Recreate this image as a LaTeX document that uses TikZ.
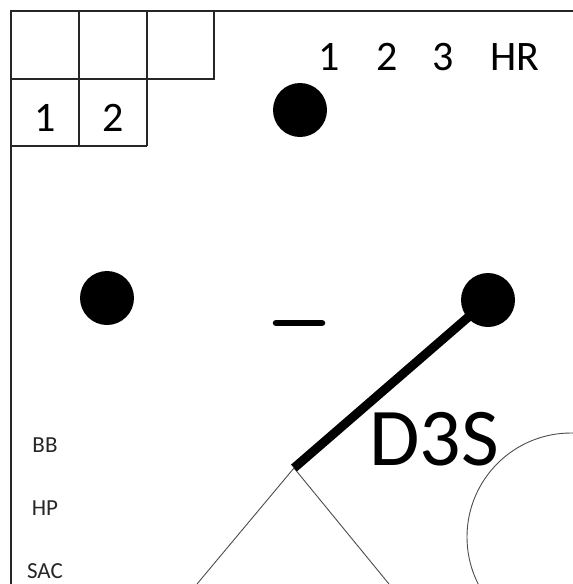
\documentclass[tikz,border=0pt]{standalone}
\usepackage{fontspec}
\setmainfont{Carlito}
\begin{document}
\begin{tikzpicture}[x=1pt,y=-1pt,
  frame/.style={draw=black!85,line width=1.4pt},
  grid/.style={draw=black!85,line width=1.3pt},
  thin/.style={draw=black!70,line width=0.9pt},
  dot/.style={circle,fill=black,inner sep=0pt,minimum size=54pt},
  big/.style={font=\fontsize{42}{42}\selectfont,inner sep=0pt},
  small/.style={font=\fontsize{23}{23}\selectfont,inner sep=0pt,text=black!85}]
\useasboundingbox (0,0) rectangle (573,584);
% frame
\draw[frame] (11,584) -- (11,11) -- (573,11);
% grid
\draw[grid] (11,79) -- (214,79) -- (214,11);
\draw[grid] (79,11) -- (79,146);
\draw[grid] (147,11) -- (147,146);
\draw[grid] (11,146) -- (147,146);
\node[big] (g1) at (45,118) {1};
\node[big] (g2) at (113,118) {2};
% header
\node[big] (h1) at (329,57) {1};
\node[big] (h2) at (387,57) {2};
\node[big] (h3) at (443,57) {3};
\node[big] (hr) at (515,57) {HR};
% dots
\node[dot] (second) at (300,110) {};
\node[dot] (third) at (107,298) {};
\node[dot] (first) at (488,300) {};
% dash
\draw[line width=6.5pt,line cap=round] (276,323) -- (322,323);
% diamond
\coordinate (home) at (294,468);
\coordinate (bl) at (197,584);
\coordinate (br) at (389,584);
\draw[thin] (bl) -- (home) -- (br);
% thick line
\draw[line width=9pt] (first.center) -- (home);
% circle
\begin{scope}
\clip (0,0) rectangle (573,584);
\draw[thin] (571,537) circle[radius=104];
\end{scope}
% D3S
\node[font=\fontsize{82}{82}\selectfont,inner sep=0pt] (d3s) at (434,439) {D3S};
% labels
\node[small] (bb) at (45,445) {BB};
\node[small] (hp) at (45,508) {HP};
\node[small] (sac) at (45,571) {SAC};
\end{tikzpicture}
\end{document}
